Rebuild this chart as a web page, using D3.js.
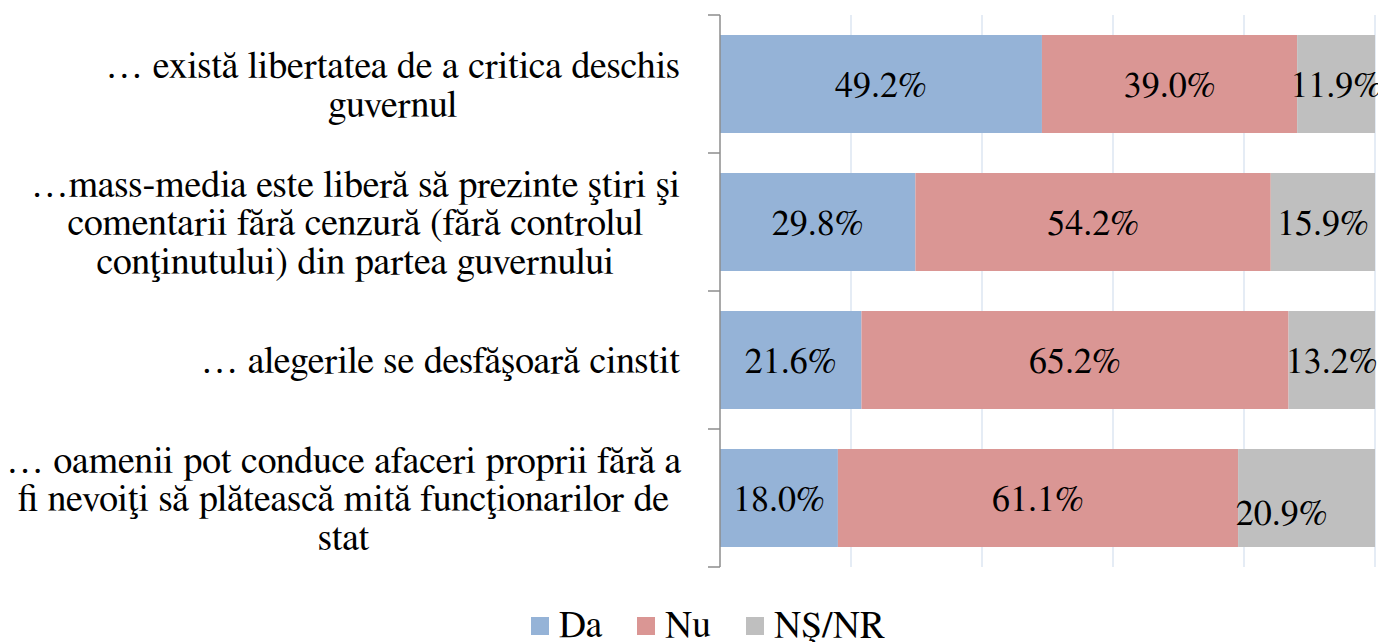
<!DOCTYPE html>
<html>
<head>
<meta charset="utf-8">
<script src="https://cdn.jsdelivr.net/npm/d3@7"></script>
<style>
  body { margin: 0; background: #fff; }
  svg { display: block; }
</style>
</head>
<body>
<div id="chart"></div>
<script>
// categories, each split into lines the way the reference wraps them
let categories = [
  ['… există libertatea de a critica deschis', 'guvernul'],
  ['…mass-media este liberă să prezinte ştiri şi', 'comentarii fără cenzură (fără controlul', 'conţinutului) din partea guvernului'],
  ['… alegerile se desfăşoară cinstit'],
  ['… oamenii pot conduce afaceri proprii fără a', 'fi nevoiţi să plătească mită funcţionarilor de', 'stat']
];
let seriesNames = ['Da', 'Nu', 'NŞ/NR'];
let daValues = [49.2, 29.8, 21.6, 18.0];
let nuValues = [39.0, 54.2, 65.2, 61.1];
let nsValues = [11.9, 15.9, 13.2, 20.9];
let gridTicks = [0.2, 0.4, 0.6, 0.8, 1.0];

let width = 1378;
let height = 642;
let plotLeft = 720;
let plotRight = 1375;
let plotTop = 15;
let plotBottom = 567;
let fontFamily = 'FreeSerif, Liberation Serif, serif';
let labelFontSize = 38;
let valueFontSize = 36;
let legendFontSize = 37.5;
let lineHeight = 38.5;
let colors = ['#95b3d7', '#da9694', '#bfbfbf'];

let rows = categories.map((c, i) => ({
  idx: i,
  Da: daValues[i],
  Nu: nuValues[i],
  'NŞ/NR': nsValues[i]
}));

let svg = d3.select('#chart')
  .append('svg')
  .attr('width', width)
  .attr('height', height);

let x = d3.scaleLinear()
  .domain([0, 1])
  .range([plotLeft, plotRight]);

let y = d3.scaleBand()
  .domain(rows.map(r => r.idx))
  .range([plotTop, plotBottom])
  .paddingInner(0.29)
  .paddingOuter(0.145);

// vertical gridlines
svg.append('g')
  .selectAll('line')
  .data(gridTicks)
  .enter()
  .append('line')
  .attr('x1', d => x(d))
  .attr('x2', d => x(d))
  .attr('y1', plotTop)
  .attr('y2', plotBottom)
  .attr('stroke', '#dce6f2')
  .attr('stroke-width', 1.5);

// stacked bars, normalised to 100%
let stacked = d3.stack()
  .keys(seriesNames)
  .offset(d3.stackOffsetExpand)(rows);

let layers = svg.append('g')
  .selectAll('g.layer')
  .data(stacked)
  .enter()
  .append('g')
  .attr('class', 'layer')
  .attr('fill', (_, i) => colors[i]);

layers.selectAll('rect')
  .data(d => d)
  .enter()
  .append('rect')
  .attr('x', d => x(d[0]))
  .attr('width', d => x(d[1]) - x(d[0]))
  .attr('y', d => y(d.data.idx))
  .attr('height', y.bandwidth());

// value labels; the last grey label was nudged in the original
let nudge = (key, idx) => (key === 'NŞ/NR' && idx === 3) ? [-25, 14] : [0, 0];

layers.each(function(layer) {
  d3.select(this)
    .selectAll('text')
    .data(layer)
    .enter()
    .append('text')
    .attr('x', d => (x(d[0]) + x(d[1])) / 2 + nudge(layer.key, d.data.idx)[0])
    .attr('y', d => y(d.data.idx) + y.bandwidth() / 2 + nudge(layer.key, d.data.idx)[1])
    .attr('dy', '0.35em')
    .attr('text-anchor', 'middle')
    .attr('fill', '#000')
    .attr('font-family', fontFamily)
    .attr('font-size', valueFontSize)
    .text(d => d.data[layer.key].toFixed(1) + '%');
});

// left axis line with tick marks at band boundaries
let axis = svg.append('g').attr('stroke', '#8c8c8c').attr('stroke-width', 1.5);
axis.append('line')
  .attr('x1', plotLeft).attr('x2', plotLeft)
  .attr('y1', plotTop).attr('y2', plotBottom);
let bounds = rows.map(r => y(r.idx) - y.step() * y.paddingInner() / 2);
bounds[0] = plotTop;
bounds.push(plotBottom);
axis.selectAll('line.tick')
  .data(bounds)
  .enter()
  .append('line')
  .attr('class', 'tick')
  .attr('x1', plotLeft - 12).attr('x2', plotLeft)
  .attr('y1', d => d).attr('y2', d => d);

// category labels, centred as a block whose right edge sits left of the axis
let labelRight = 680;
let labelGroups = svg.append('g')
  .selectAll('text.cat')
  .data(categories)
  .enter()
  .append('text')
  .attr('class', 'cat')
  .attr('text-anchor', 'middle')
  .attr('fill', '#000')
  .attr('font-family', fontFamily)
  .attr('font-size', labelFontSize);

labelGroups.each(function(lines, i) {
  let t = d3.select(this);
  let cy = y(i) + y.bandwidth() / 2;
  let firstY = cy - (lines.length - 1) * lineHeight / 2;
  lines.forEach((line, j) => {
    t.append('tspan')
      .attr('y', firstY + j * lineHeight)
      .attr('dy', '0.35em')
      .text(line);
  });
  let maxW = d3.max(t.selectAll('tspan').nodes(), n => n.getComputedTextLength());
  // keep the widest block inside the left edge
  let cx = Math.max(labelRight - maxW / 2, maxW / 2 + 6);
  t.selectAll('tspan').attr('x', cx);
});

// legend
let legend = svg.append('g')
  .attr('font-family', fontFamily)
  .attr('font-size', legendFontSize);
let legendX = [531, 637, 746];
let legendY = 624;
seriesNames.forEach((name, i) => {
  legend.append('rect')
    .attr('x', legendX[i])
    .attr('y', legendY - 7)
    .attr('width', 18)
    .attr('height', 18)
    .attr('fill', colors[i]);
  legend.append('text')
    .attr('x', legendX[i] + 28)
    .attr('y', legendY)
    .attr('dy', '0.35em')
    .attr('fill', '#000')
    .text(name);
});
</script>
</body>
</html>
